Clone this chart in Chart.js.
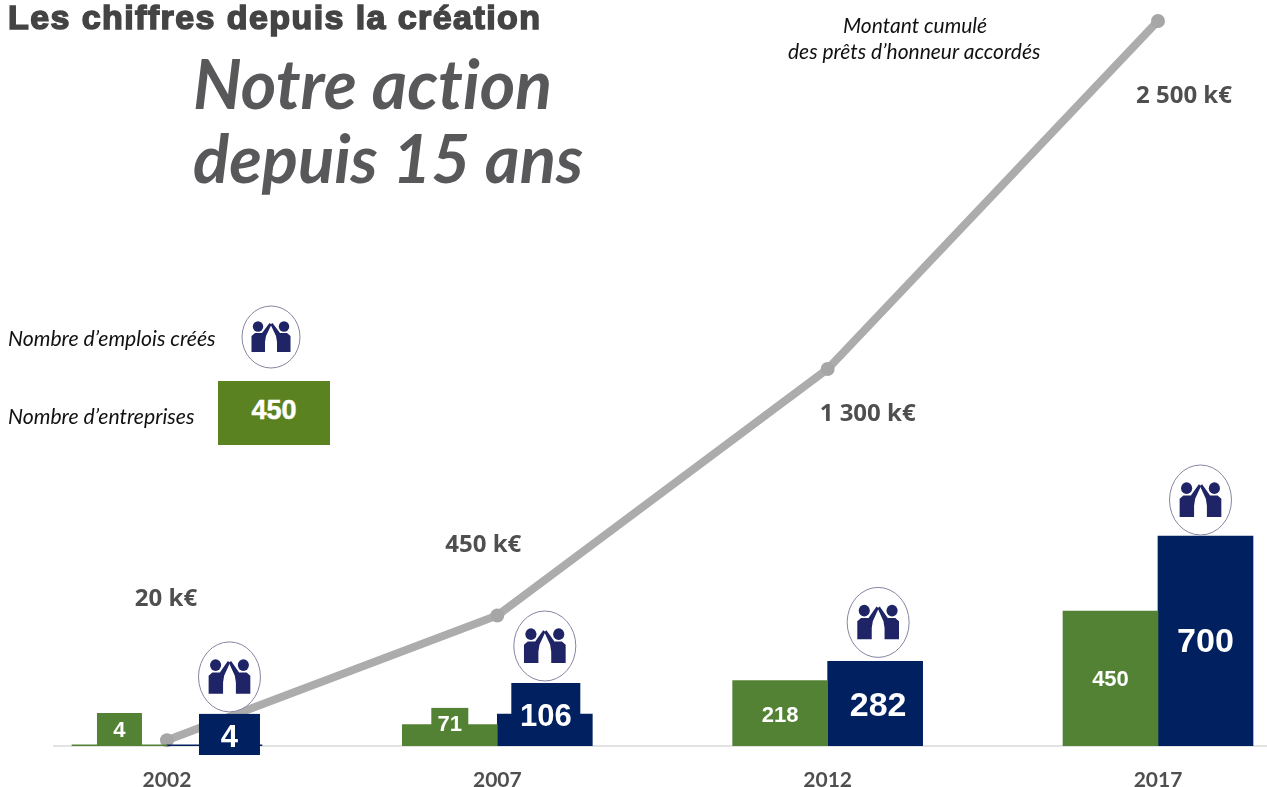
<!DOCTYPE html>
<html lang="fr">
<head>
<meta charset="utf-8">
<title>Les chiffres depuis la création</title>
<script src="https://cdn.jsdelivr.net/npm/chart.js@4/dist/chart.umd.min.js"></script>
<style>
    html, body { margin: 0; padding: 0; background: #fff; overflow: hidden; }
    #wrap { position: relative; width: 1267px; height: 787px; }
    #wrap canvas { position: absolute; left: 0; top: 0; }
    .txt { position: absolute; white-space: nowrap; }
    #heading { left: 8px; top: -2px; font: bold 34px "Liberation Sans", sans-serif; color: #444; letter-spacing: 1.42px; -webkit-text-stroke: 1.6px #444; }
    .slogan { left: 193px; font: italic bold 68px Lato, sans-serif; color: #58585a; font-variant-ligatures: none; }
    .note { font: italic 21px Lato, sans-serif; color: #111; }
    #legendBox { left: 218px; top: 381px; width: 112px; height: 64px; background: #5a8220; color: #fff; font: bold 27px/58px "Liberation Sans", sans-serif; text-align: center; -webkit-text-stroke: 0.5px #fff; }
</style>
</head>
<body>
<div id="wrap">
    <canvas id="chart" width="1267" height="787"></canvas>
    <div class="txt" id="heading">Les chiffres depuis la création</div>
    <div class="txt slogan" style="top:42px">Notre action</div>
    <div class="txt slogan" style="top:117px; font-size:67px">depuis 15 ans</div>
    <div class="txt note" style="left:843px; top:12px">Montant cumulé</div>
    <div class="txt note" style="left:788px; top:38px">des prêts d’honneur accordés</div>
    <div class="txt note" style="left:8px; top:325px; font-size:21.2px">Nombre d’emplois créés</div>
    <div class="txt note" style="left:8px; top:403px; font-size:21.2px">Nombre d’entreprises</div>
    <div class="txt" id="legendBox">450</div>
</div>

<script>
// --- DONNEES ---
const years = [2002, 2007, 2012, 2017];
const companies = [4, 71, 218, 450];
const jobs = [4, 106, 282, 700];
const loans = [20, 450, 1300, 2500];
const loanLabels = ['20 k€', '450 k€', '1 300 k€', '2 500 k€'];

// pavés collés derrière les chiffres (en unités de l'axe des barres)
const companyPatchTop = [110, 127, 0, 0];
const jobPatchRange = [[-30, 107], [0, 210], [0, 0], [0, 0]];

// --- REGLAGES D'AFFICHAGE ---
const GREEN = '#548235';
const NAVY = '#002060';
const ICON_BLUE = '#1f2466';
const companyPatchWidth = [45, 37, 0, 0];
const jobPatchStyle = [{ w: 61, dx: 15 }, { w: 69, dx: 1 }, { w: 0, dx: 0 }, { w: 0, dx: 0 }];
const companyFont = [22, 22, 22, 22];
const jobFont = [31, 31, 34, 34];
const companyTextY = [731, 725, 716, 680];
const jobTextY = [738, 717, 707, 643];
const jobTextDx = [15, 1, 3, 0];
const iconDx = [15, 0, 3, -5];
const iconDy = [-37, -37, -39, -36];
const loanTextOffset = [[-1, -141], [-14, -70], [40, 45], [26, 75]];

// Deux personnages, dessinés autour du centre de l'ovale
function drawIcon(ctx, cx, cy, rx, ry) {
    ctx.save();
    ctx.translate(cx, cy);
    ctx.beginPath();
    ctx.ellipse(0, 0, rx, ry, 0, 0, Math.PI * 2);
    ctx.fillStyle = '#fff';
    ctx.fill();
    ctx.strokeStyle = '#85859f';
    ctx.lineWidth = 1;
    ctx.stroke();
    ctx.scale(rx / 29, ry / 31);
    ctx.fillStyle = ICON_BLUE;
    [-1, 1].forEach(side => {
        ctx.save();
        ctx.scale(side, 1);
        ctx.beginPath();
        ctx.arc(13, -10.5, 5.2, 0, Math.PI * 2);
        ctx.fill();
        ctx.beginPath();
        ctx.moveTo(19.5, -1);
        ctx.lineTo(16, -4);
        ctx.lineTo(9, -4);
        ctx.lineTo(1.5, -14);
        ctx.lineTo(-0.5, -12.5);
        ctx.lineTo(5, -1);
        ctx.lineTo(6, 5);
        ctx.lineTo(6, 15);
        ctx.lineTo(19.5, 15);
        ctx.closePath();
        ctx.fill();
        ctx.restore();
    });
    ctx.restore();
}

function whiteText(ctx, text, x, y, size) {
    ctx.font = `bold ${size}px "Liberation Sans", sans-serif`;
    ctx.fillStyle = '#fff';
    ctx.textAlign = 'center';
    ctx.textBaseline = 'middle';
    ctx.fillText(text, x, y);
}

// Pavés, chiffres, icônes et montants au-dessus des barres
const overlayPlugin = {
    id: 'overlay',
    afterDatasetsDraw(chart) {
        const ctx = chart.ctx;
        const yBars = chart.scales.yBars;
        const greenBars = chart.getDatasetMeta(0).data;
        const navyBars = chart.getDatasetMeta(1).data;
        const linePoints = chart.getDatasetMeta(2).data;

        years.forEach((year, i) => {
            const gx = greenBars[i].x;
            const nx = navyBars[i].x;

            if (companyPatchWidth[i] > 0) {
                const top = yBars.getPixelForValue(companyPatchTop[i]);
                ctx.fillStyle = GREEN;
                ctx.fillRect(gx - companyPatchWidth[i] / 2, top, companyPatchWidth[i], yBars.getPixelForValue(0) - top);
            }
            let navyTop = navyBars[i].y;
            if (jobPatchStyle[i].w > 0) {
                const top = yBars.getPixelForValue(jobPatchRange[i][1]);
                const bottom = yBars.getPixelForValue(jobPatchRange[i][0]);
                ctx.fillStyle = NAVY;
                ctx.fillRect(nx + jobPatchStyle[i].dx - jobPatchStyle[i].w / 2, top, jobPatchStyle[i].w, bottom - top);
                navyTop = top;
            }

            whiteText(ctx, String(companies[i]), gx, companyTextY[i], companyFont[i]);
            whiteText(ctx, String(jobs[i]), nx + jobTextDx[i], jobTextY[i], jobFont[i]);
            drawIcon(ctx, nx + iconDx[i], navyTop + iconDy[i], 31, 35);

            ctx.font = 'bold 24px "Open Sans", sans-serif';
            ctx.fillStyle = '#4f4f4f';
            ctx.textAlign = 'center';
            ctx.textBaseline = 'middle';
            ctx.fillText(loanLabels[i], linePoints[i].x + loanTextOffset[i][0], linePoints[i].y + loanTextOffset[i][1]);
        });

        // icône de la légende
        drawIcon(ctx, 271, 337, 29, 31);
    }
};

new Chart(document.getElementById('chart'), {
    type: 'bar',
    data: {
        datasets: [
            {
                label: "Nombre d'entreprises",
                data: years.map((y, i) => ({ x: y, y: companies[i] })),
                backgroundColor: GREEN,
                barThickness: 95,
                yAxisID: 'yBars',
                order: 1
            },
            {
                label: "Nombre d'emplois créés",
                data: years.map((y, i) => ({ x: y, y: jobs[i] })),
                backgroundColor: NAVY,
                barThickness: 95,
                yAxisID: 'yBars',
                order: 1
            },
            {
                type: 'line',
                label: 'Montant cumulé des prêts d’honneur accordés',
                data: years.map((y, i) => ({ x: y, y: loans[i] })),
                borderColor: '#acacac',
                borderWidth: 8,
                pointRadius: 7,
                pointBackgroundColor: '#a6a6a6',
                pointBorderWidth: 0,
                tension: 0,
                yAxisID: 'yLine',
                clip: false,
                order: 2
            }
        ]
    },
    options: {
        responsive: false,
        animation: false,
        layout: { autoPadding: false, padding: { left: 54, right: 0, top: 0, bottom: 0 } },
        plugins: { legend: { display: false }, tooltip: { enabled: false } },
        scales: {
            x: {
                type: 'linear',
                offset: false,
                min: 2000.29,
                max: 2018.65,
                grid: { display: false, drawTicks: false },
                border: { color: '#e3e3e3', width: 2 },
                afterBuildTicks: axis => { axis.ticks = years.map(y => ({ value: y })); },
                afterFit: axis => { axis.height = 41; },
                ticks: {
                    padding: 22,
                    maxRotation: 0,
                    autoSkip: false,
                    color: '#4f4f4f',
                    font: { family: 'Lato', size: 21, weight: 'bold' },
                    callback: v => String(v)
                }
            },
            yBars: { display: false, min: 0, max: 746 / 0.3 },
            yLine: { display: false, min: 0, max: 746 / 0.29 }
        }
    },
    plugins: [overlayPlugin]
});
</script>
</body>
</html>
